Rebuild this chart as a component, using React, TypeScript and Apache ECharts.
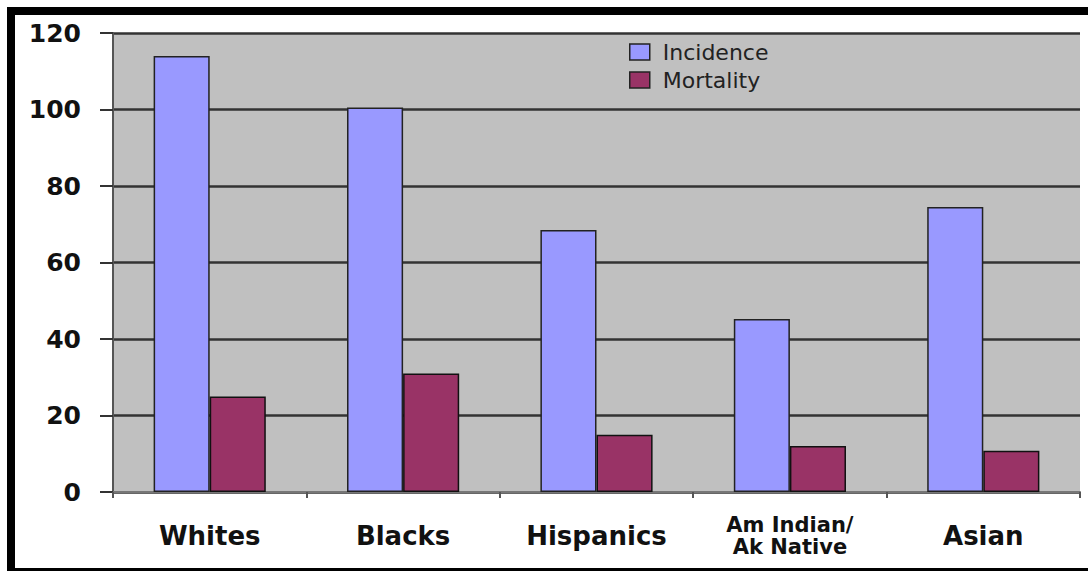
import React, { useEffect, useRef } from "react";
import * as echarts from "echarts";

const categories = ["Whites", "Blacks", "Hispanics", "Am Indian/\nAk Native", "Asian"];
const incidence = [114, 100.5, 68.5, 45.2, 74.5];
const mortality = [25, 31, 15, 12, 10.8];
const seriesNames = ["Incidence", "Mortality"];

export default function App() {
  const ref = useRef<HTMLDivElement>(null);
  useEffect(() => {
    if (!ref.current) return;
    const chart = echarts.init(ref.current, null, { renderer: "svg" });
    const font = "DejaVu Sans";
    chart.setOption({
      animation: false,
      backgroundColor: "#ffffff",
      grid: {
        left: 113,
        right: 8,
        top: 33,
        bottom: 79,
        show: true,
        backgroundColor: "#c0c0c0",
        borderWidth: 0,
      },
      legend: {
        orient: "vertical",
        left: 624,
        top: 36,
        itemWidth: 20,
        itemHeight: 16,
        itemGap: 6,
        icon: "rect",
        data: seriesNames,
        itemStyle: { borderColor: "#222", borderWidth: 1.5 },
        textStyle: { fontFamily: font, fontSize: 22, color: "#222", padding: [0, 0, 0, 8] },
      },
      xAxis: {
        type: "category",
        data: categories,
        axisLine: { show: true, lineStyle: { color: "#777", width: 2 } },
        axisTick: { show: true, length: 6, lineStyle: { color: "#555", width: 2 } },
        axisLabel: {
          interval: 0,
          margin: 44,
          verticalAlign: "middle",
          color: "#111",
          fontFamily: font,
          fontWeight: "bold",
          fontSize: 26,
          formatter: (v: string) =>
            v.indexOf("\n") >= 0
              ? v.split("\n").map((s) => "{s|" + s + "}").join("\n")
              : v,
          rich: {
            s: { fontFamily: font, fontWeight: "bold", fontSize: 21, lineHeight: 22, color: "#111" },
          },
        },
        splitLine: { show: false },
      },
      yAxis: {
        type: "value",
        min: 0,
        max: 120,
        interval: 20,
        axisLine: { show: true, lineStyle: { color: "#555", width: 2 } },
        axisTick: { show: true, length: 13, lineStyle: { color: "#333", width: 2 } },
        axisLabel: {
          margin: 32,
          color: "#111",
          fontFamily: font,
          fontWeight: "bold",
          fontSize: 25,
        },
        splitLine: { show: true, lineStyle: { color: "#333", width: 2.5 } },
      },
      series: [
        {
          name: seriesNames[0],
          type: "bar",
          data: incidence,
          barGap: "0%",
          barCategoryGap: "42%",
          itemStyle: { color: "#9999ff", borderColor: "#222", borderWidth: 1.5 },
        },
        {
          name: seriesNames[1],
          type: "bar",
          data: mortality,
          itemStyle: { color: "#993366", borderColor: "#111", borderWidth: 1.5 },
        },
      ],
      graphic: [
        { type: "rect", shape: { x: 7, y: 7, width: 8, height: 564 }, style: { fill: "#000" } },
        { type: "rect", shape: { x: 7, y: 7, width: 1081, height: 8 }, style: { fill: "#000" } },
        { type: "rect", shape: { x: 7, y: 568, width: 1081, height: 3 }, style: { fill: "#000" } },
      ],
    });
    return () => chart.dispose();
  }, []);
  return (
    <div
      ref={ref}
      style={{ position: "absolute", left: 0, top: 0, width: 1088, height: 571 }}
    />
  );
}
